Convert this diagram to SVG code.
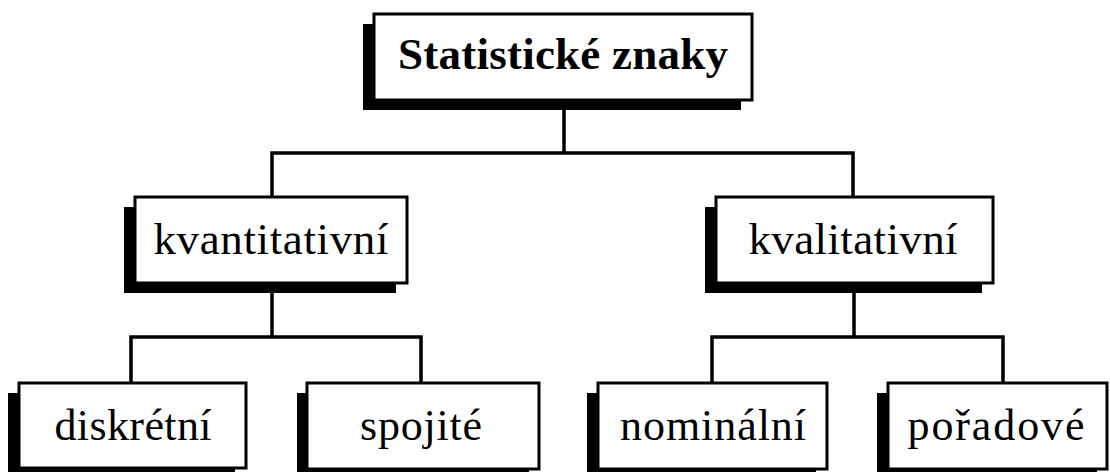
<svg xmlns="http://www.w3.org/2000/svg" width="1110" height="472" viewBox="0 0 1110 472">
  <style>
    .shadow { fill: #000; }
    .box { fill: #fff; stroke: #000; stroke-width: 3; }
    .lbl { font-family: "Liberation Serif", "Times New Roman", serif; fill: #000; text-anchor: middle; }
    .title { font-size: 45px; font-weight: bold; }
    .mid { font-size: 45px; }
    .leaf { font-size: 44px; }
    .wire { fill: none; stroke: #000; stroke-width: 3.5; }
  </style>
  <rect width="1110" height="472" fill="#fff"/>

  <!-- tree connectors -->
  <g id="connectors">
    <path class="wire" d="M564 100 V153 M272 197 V153 H853 V197"/>
    <path class="wire" d="M272 283 V337 M131 383 V337 H421 V383"/>
    <path class="wire" d="M854 283 V337 M712 383 V337 H1003 V383"/>
  </g>

  <g id="root">
    <rect class="shadow" x="363" y="24" width="378" height="86"/>
    <rect class="box" x="374" y="14" width="378" height="86"/>
    <text class="lbl title" x="563" y="69" textLength="330" lengthAdjust="spacing">Statistické znaky</text>
  </g>

  <g id="kvantitativni">
    <rect class="shadow" x="124" y="207" width="272" height="86"/>
    <rect class="box" x="135" y="197" width="272" height="86"/>
    <text class="lbl mid" x="271" y="254" textLength="235" lengthAdjust="spacing">kvantitativní</text>
  </g>

  <g id="kvalitativni">
    <rect class="shadow" x="705" y="207" width="277" height="86"/>
    <rect class="box" x="716" y="197" width="277" height="86"/>
    <text class="lbl mid" x="853" y="254" textLength="209" lengthAdjust="spacing">kvalitativní</text>
  </g>

  <g id="diskretni">
    <rect class="shadow" x="8" y="393" width="227" height="86"/>
    <rect class="box" x="19" y="383" width="227" height="85"/>
    <text class="lbl leaf" x="133" y="440" textLength="157" lengthAdjust="spacing">diskrétní</text>
  </g>

  <g id="spojite">
    <rect class="shadow" x="297" y="393" width="232" height="86"/>
    <rect class="box" x="307" y="383" width="232" height="86"/>
    <text class="lbl leaf" x="421" y="440" textLength="122" lengthAdjust="spacing">spojité</text>
  </g>

  <g id="nominalni">
    <rect class="shadow" x="587" y="393" width="229" height="86"/>
    <rect class="box" x="598" y="383" width="229" height="86"/>
    <text class="lbl leaf" x="713" y="440" textLength="186" lengthAdjust="spacing">nominální</text>
  </g>

  <g id="poradove">
    <rect class="shadow" x="877" y="393" width="220" height="86"/>
    <rect class="box" x="888" y="383" width="219" height="86"/>
    <text class="lbl leaf" x="996" y="440" textLength="177" lengthAdjust="spacing">pořadové</text>
  </g>
</svg>
